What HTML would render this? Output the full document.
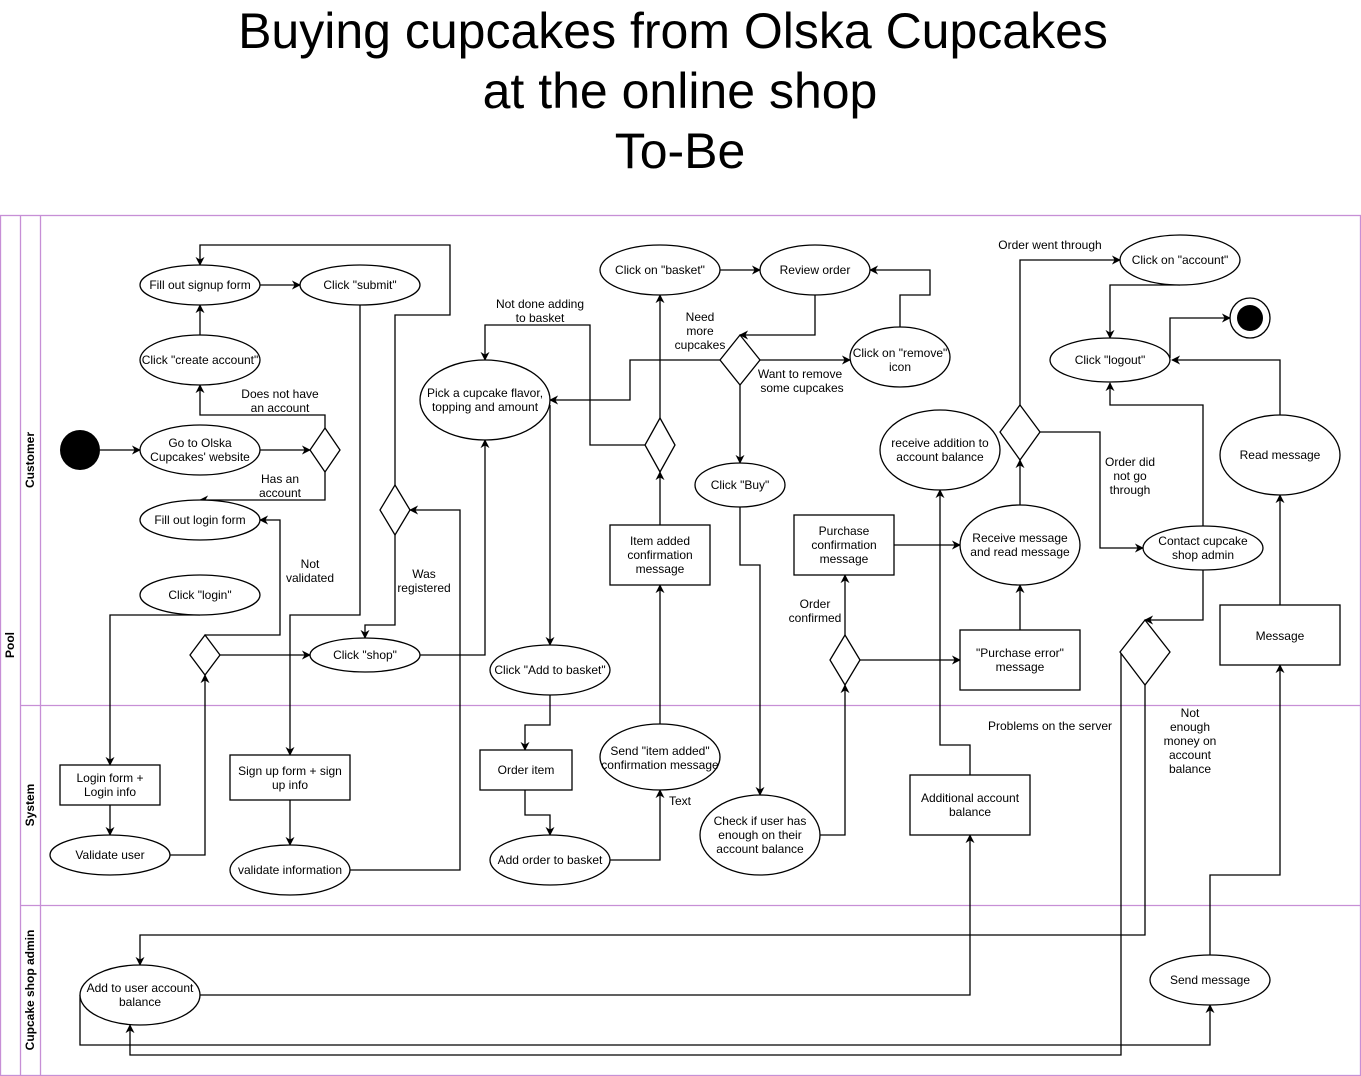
<!DOCTYPE html>
<html><head><meta charset="utf-8"><style>
html,body{margin:0;padding:0;background:#fff;}
svg{display:block;font-family:"Liberation Sans",Arial,sans-serif;}
</style></head><body>
<svg width="1361" height="1076" viewBox="0 0 1361 1076" xmlns="http://www.w3.org/2000/svg">
<defs>
<marker id="a" viewBox="0 0 10 10" refX="9" refY="5" markerWidth="9" markerHeight="9" orient="auto" markerUnits="userSpaceOnUse"><path d="M0,0 L10,5 L0,10 L3,5 Z" fill="#000"/></marker>
</defs>
<g font-size="50" text-anchor="middle" fill="#000">
<text x="673" y="48">Buying cupcakes from Olska Cupcakes</text>
<text x="680" y="108">at the online shop</text>
<text x="680" y="168">To-Be</text>
</g>
<g fill="none" stroke="#c78fd6" stroke-width="1.3">
<rect x="0.5" y="215.5" width="1360" height="860"/>
<line x1="20.5" y1="215" x2="20.5" y2="1076"/>
<line x1="40.5" y1="215" x2="40.5" y2="1076"/>
<line x1="20" y1="705.5" x2="1361" y2="705.5"/>
<line x1="20" y1="905.5" x2="1361" y2="905.5"/>
</g>
<g font-size="12" font-weight="bold" text-anchor="middle">
<text transform="translate(14,645) rotate(-90)">Pool</text>
<text transform="translate(34,460) rotate(-90)">Customer</text>
<text transform="translate(34,805) rotate(-90)">System</text>
<text transform="translate(34,990) rotate(-90)">Cupcake shop admin</text>
</g>
<g fill="none" stroke="#000" stroke-width="1.3" marker-end="url(#a)">
<path d="M100,450 H140"/>
<path d="M260,450 H310"/>
<path d="M325,428 V415 H200 V385"/>
<path d="M325,472 V500 H200"/>
<path d="M200,335 V305"/>
<path d="M260,285 H300"/>
<path d="M360,305 V615 H290 V755"/>
<path d="M290,800 V845"/>
<path d="M350,870 H460 V510 H410"/>
<path d="M395,485 V315 H450 V245 H200 V265"/>
<path d="M395,535 V625 H365 V638"/>
<path d="M200,615 H110 V765"/>
<path d="M110,805 V835"/>
<path d="M170,855 H205 V675"/>
<path d="M220,655 H310"/>
<path d="M205,635 H280 V520 H260"/>
<path d="M420,655 H485 V440"/>
<path d="M550,405 V645"/>
<path d="M550,695 V725 H525 V750"/>
<path d="M525,790 V815 H550 V835"/>
<path d="M610,860 H660 V790"/>
<path d="M660,724 V585"/>
<path d="M660,525 V472"/>
<path d="M660,418 V295"/>
<path d="M645,445 H590 V325 H485 V360"/>
<path d="M720,270 H760"/>
<path d="M815,295 V335 H740"/>
<path d="M720,360 H630 V400 H550"/>
<path d="M760,360 H850"/>
<path d="M900,327 V295 H930 V270 H870"/>
<path d="M740,385 V463"/>
<path d="M740,507 V565 H760 V795"/>
<path d="M820,835 H845 V685"/>
<path d="M845,635 V575"/>
<path d="M860,660 H960"/>
<path d="M894,545 H960"/>
<path d="M1020,630 V585"/>
<path d="M1020,505 V460"/>
<path d="M1020,405 V260 H1120"/>
<path d="M1040,432 H1100 V548 H1143"/>
<path d="M1180,285 H1110 V338"/>
<path d="M1170,358 V318 H1230"/>
<path d="M1280,415 V360 H1172"/>
<path d="M1203,526 V405 H1110 V383"/>
<path d="M1203,570 V620 H1145"/>
<path d="M1121,652 V1055 H130 V1025"/>
<path d="M1145,685 V935 H140 V965"/>
<path d="M200,995 H970 V835"/>
<path d="M80,995 V1045 H1210 V1005"/>
<path d="M1210,955 V875 H1280 V665"/>
<path d="M1280,605 V495"/>
<path d="M970,775 V745 H940 V490"/>
</g>
<g fill="#fff" stroke="#000" stroke-width="1.3">
<ellipse cx="200" cy="450" rx="60" ry="25"/>
<polygon points="325,428 340,450 325,472 310,450"/>
<ellipse cx="200" cy="360" rx="60" ry="25"/>
<ellipse cx="200" cy="285" rx="60" ry="20"/>
<ellipse cx="360" cy="285" rx="60" ry="20"/>
<ellipse cx="200" cy="520" rx="60" ry="20"/>
<ellipse cx="200" cy="595" rx="60" ry="20"/>
<polygon points="205,635 220,655 205,675 190,655"/>
<ellipse cx="365" cy="655" rx="55" ry="17"/>
<polygon points="395,485 410,510 395,535 380,510"/>
<ellipse cx="485" cy="400" rx="65" ry="40"/>
<ellipse cx="550" cy="670" rx="60" ry="25"/>
<rect x="610" y="525" width="100" height="60"/>
<polygon points="660,418 675,445 660,472 645,445"/>
<ellipse cx="660" cy="270" rx="60" ry="25"/>
<ellipse cx="815" cy="270" rx="55" ry="25"/>
<polygon points="740,335 760,360 740,385 720,360"/>
<ellipse cx="900" cy="357" rx="50" ry="30"/>
<ellipse cx="740" cy="485" rx="45" ry="22"/>
<ellipse cx="940" cy="450" rx="60" ry="40"/>
<rect x="794" y="515" width="100" height="60"/>
<ellipse cx="1020" cy="545" rx="60" ry="40"/>
<polygon points="1020,405 1040,432 1020,460 1000,432"/>
<ellipse cx="1180" cy="260" rx="60" ry="25"/>
<ellipse cx="1110" cy="360" rx="60" ry="22"/>
<circle cx="1250" cy="318" r="20"/>
<ellipse cx="1280" cy="455" rx="60" ry="40"/>
<ellipse cx="1203" cy="548" rx="60" ry="22"/>
<polygon points="1145,620 1170,652 1145,685 1120,652"/>
<rect x="1220" y="605" width="120" height="60"/>
<rect x="960" y="630" width="120" height="60"/>
<polygon points="845,635 860,660 845,685 830,660"/>
<rect x="60" y="765" width="100" height="40"/>
<ellipse cx="110" cy="855" rx="60" ry="20"/>
<rect x="230" y="755" width="120" height="45"/>
<ellipse cx="290" cy="870" rx="60" ry="25"/>
<rect x="480" y="750" width="92" height="40"/>
<ellipse cx="550" cy="860" rx="60" ry="25"/>
<ellipse cx="660" cy="757" rx="60" ry="33"/>
<ellipse cx="760" cy="835" rx="60" ry="40"/>
<rect x="910" y="775" width="120" height="60"/>
<ellipse cx="140" cy="995" rx="60" ry="30"/>
<ellipse cx="1210" cy="980" rx="60" ry="25"/>
</g>
<circle cx="80" cy="450" r="20" fill="#000"/>
<circle cx="1250" cy="318" r="13" fill="#000"/>
<g font-size="12" text-anchor="middle" fill="#000">
<text x="200" y="447">Go to Olska</text><text x="200" y="461">Cupcakes' website</text>
<text x="200" y="364">Click "create account"</text>
<text x="200" y="289">Fill out signup form</text>
<text x="360" y="289">Click "submit"</text>
<text x="200" y="524">Fill out login form</text>
<text x="200" y="599">Click "login"</text>
<text x="365" y="659">Click "shop"</text>
<text x="485" y="397">Pick a cupcake flavor,</text><text x="485" y="411">topping and amount</text>
<text x="550" y="674">Click "Add to basket"</text>
<text x="660" y="545">Item added</text><text x="660" y="559">confirmation</text><text x="660" y="573">message</text>
<text x="660" y="274">Click on "basket"</text>
<text x="815" y="274">Review order</text>
<text x="900" y="357">Click on "remove"</text><text x="900" y="371">icon</text>
<text x="740" y="489">Click "Buy"</text>
<text x="940" y="447">receive addition to</text><text x="940" y="461">account balance</text>
<text x="844" y="535">Purchase</text><text x="844" y="549">confirmation</text><text x="844" y="563">message</text>
<text x="1020" y="542">Receive message</text><text x="1020" y="556">and read message</text>
<text x="1180" y="264">Click on "account"</text>
<text x="1110" y="364">Click "logout"</text>
<text x="1280" y="459">Read message</text>
<text x="1203" y="545">Contact cupcake</text><text x="1203" y="559">shop admin</text>
<text x="1280" y="640">Message</text>
<text x="1020" y="657">"Purchase error"</text><text x="1020" y="671">message</text>
<text x="110" y="782">Login form +</text><text x="110" y="796">Login info</text>
<text x="110" y="859">Validate user</text>
<text x="290" y="775">Sign up form + sign</text><text x="290" y="789">up info</text>
<text x="290" y="874">validate information</text>
<text x="526" y="774">Order item</text>
<text x="550" y="864">Add order to basket</text>
<text x="660" y="755">Send "item added"</text><text x="660" y="769">confirmation message</text>
<text x="760" y="825">Check if user has</text><text x="760" y="839">enough on their</text><text x="760" y="853">account balance</text>
<text x="970" y="802">Additional account</text><text x="970" y="816">balance</text>
<text x="140" y="992">Add to user account</text><text x="140" y="1006">balance</text>
<text x="1210" y="984">Send message</text>
<text x="280" y="398">Does not have</text><text x="280" y="412">an account</text>
<text x="280" y="483">Has an</text><text x="280" y="497">account</text>
<text x="310" y="568">Not</text><text x="310" y="582">validated</text>
<text x="424" y="578">Was</text><text x="424" y="592">registered</text>
<text x="540" y="308">Not done adding</text><text x="540" y="322">to basket</text>
<text x="700" y="321">Need</text><text x="700" y="335">more</text><text x="700" y="349">cupcakes</text>
<text x="800" y="378">Want to remove</text><text x="802" y="392">some cupcakes</text>
<text x="815" y="608">Order</text><text x="815" y="622">confirmed</text>
<text x="1050" y="249">Order went through</text>
<text x="1130" y="466">Order did</text><text x="1130" y="480">not go</text><text x="1130" y="494">through</text>
<text x="680" y="805">Text</text>
<text x="1050" y="730">Problems on the server</text>
<text x="1190" y="717">Not</text><text x="1190" y="731">enough</text><text x="1190" y="745">money on</text><text x="1190" y="759">account</text><text x="1190" y="773">balance</text>
</g>
</svg>
</body></html>
